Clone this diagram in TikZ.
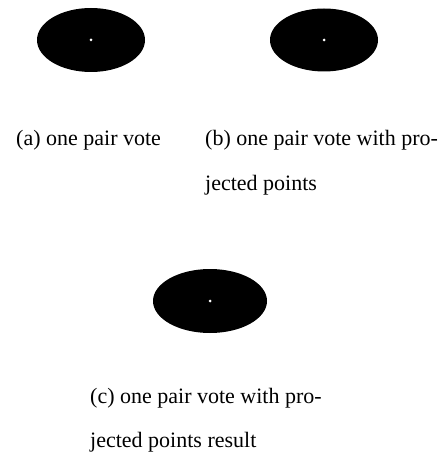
\documentclass[tikz,border=0pt]{standalone}
\usepackage{fontspec}
\setmainfont{Liberation Serif}
\usetikzlibrary{shapes.geometric}
\begin{document}
\begin{tikzpicture}[x=1pt,y=-1pt,
  blob/.style={ellipse, fill=black, draw=none, inner sep=0pt},
  seed/.style={circle, fill=white, draw=none, inner sep=0pt, minimum size=3pt},
  captext/.style={anchor=base west, inner sep=0pt, font=\fontsize{22}{44}\selectfont}]
\useasboundingbox (0,0) rectangle (441,457);
% vote regions
\node[blob, minimum width=108pt, minimum height=64pt] (voteA) at (91,40) {};
\node[blob, minimum width=108pt, minimum height=63pt] (voteB) at (324,40) {};
\node[blob, minimum width=114pt, minimum height=64pt] (voteC) at (210,301) {};
% centre points
\node[seed] (seedA) at (voteA.center) {};
\node[seed] (seedB) at (voteB.center) {};
\node[seed] (seedC) at (voteC.center) {};
% captions
\node[captext] (capA)  at (16,146)  {(a) one pair vote};
\node[captext] (capB1) at (205,146) {(b) one pair vote with pro-};
\node[captext] (capB2) at (205,190) {jected points};
\node[captext] (capC1) at (90,403)  {(c) one pair vote with pro-};
\node[captext] (capC2) at (90,447)  {jected points result};
\end{tikzpicture}
\end{document}
